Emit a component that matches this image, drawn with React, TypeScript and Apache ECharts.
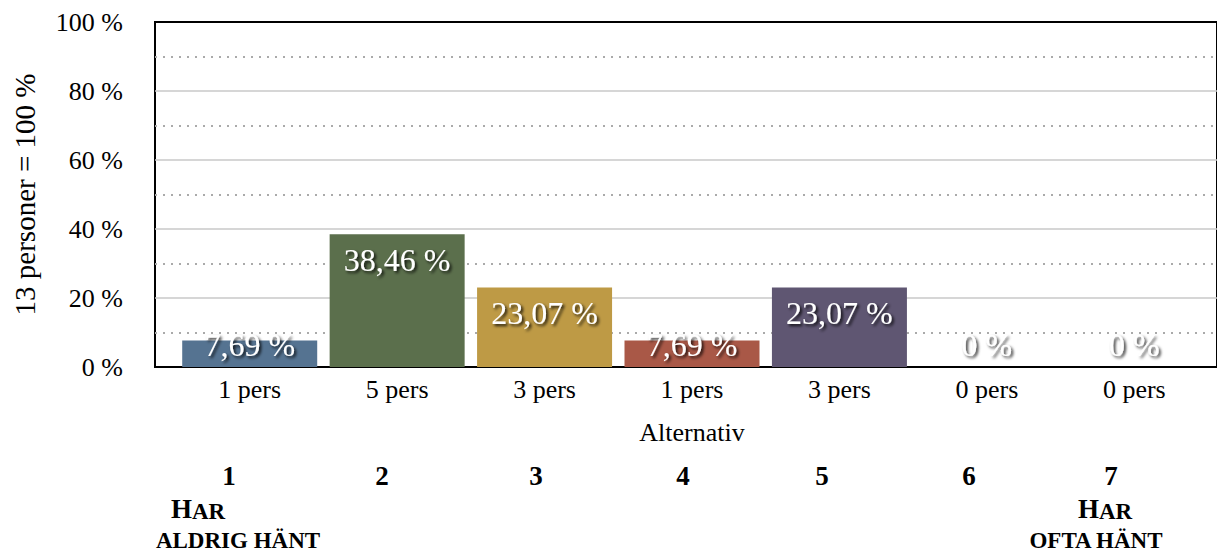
import React, { useEffect, useRef } from 'react';
import * as echarts from 'echarts';

// ---- data ----
const categories = ['1 pers', '5 pers', '3 pers', '1 pers', '3 pers', '0 pers', '0 pers'];
const percentValues = [7.69, 38.46, 23.07, 7.69, 23.07, 0, 0];
const scaleNumbers = ['1', '2', '3', '4', '5', '6', '7'];
const lowEndLabel = ['Har', 'aldrig hänt'];
const highEndLabel = ['Har', 'ofta hänt'];
const xAxisTitle = 'Alternativ';
const yAxisTitle = '13 personer = 100 %';

// ---- styles / layout ----
const barColors = ['#557391', '#5B6F4C', '#BE9A45', '#A95847', '#5F5672', '#888888', '#888888'];
const serif = '"Liberation Serif", "Times New Roman", Times, serif';
const numberX = [229, 382, 536, 683, 822, 969, 1111];

function fmt(v: number): string {
  if (v === 0) return '0 %';
  return v.toFixed(2).replace('.', ',') + ' %';
}

function smallCapsRich(word: string) {
  const first = word.charAt(0).toUpperCase();
  const rest = word.slice(1).toUpperCase();
  return `{a|${first}}{b|${rest}}`;
}

export default function App() {
  const ref = useRef<HTMLDivElement>(null);
  useEffect(() => {
    document.body.style.margin = '0';
    if (!ref.current) return;
    const chart = echarts.init(ref.current, undefined, { renderer: 'svg' });
    const richStyle = {
      a: { fontSize: 27, fontWeight: 'bold', fontFamily: serif, fill: '#000', color: '#000', verticalAlign: 'bottom' },
      b: { fontSize: 23, fontWeight: 'bold', fontFamily: serif, fill: '#000', color: '#000', verticalAlign: 'bottom' },
    };
    const graphics: any[] = [];
    scaleNumbers.forEach((n, i) => {
      graphics.push({
        type: 'text',
        x: numberX[i],
        y: 476,
        style: { text: n, fontSize: 27, fontWeight: 'bold', fontFamily: serif, fill: '#000', align: 'center', verticalAlign: 'middle' },
      });
    });
    graphics.push({
      type: 'text', x: 198, y: 509,
      style: { text: smallCapsRich(lowEndLabel[0]), rich: richStyle, align: 'center', verticalAlign: 'middle' },
    });
    graphics.push({
      type: 'text', x: 238, y: 540,
      style: { text: lowEndLabel[1].toUpperCase(), fontSize: 23, fontWeight: 'bold', fontFamily: serif, fill: '#000', align: 'center', verticalAlign: 'middle' },
    });
    graphics.push({
      type: 'text', x: 1105, y: 509,
      style: { text: smallCapsRich(highEndLabel[0]), rich: richStyle, align: 'center', verticalAlign: 'middle' },
    });
    graphics.push({
      type: 'text', x: 1096, y: 540,
      style: { text: highEndLabel[1].toUpperCase(), fontSize: 23, fontWeight: 'bold', fontFamily: serif, fill: '#000', align: 'center', verticalAlign: 'middle' },
    });

    const option: any = {
      animation: false,
      grid: [
        { left: 176, right: 9, top: 22, bottom: 184 },
        {
          left: 155, right: -5, top: 22, bottom: 184, show: true,
          borderColor: '#000', borderWidth: 2, backgroundColor: 'transparent',
        },
      ],
      xAxis: [
        {
          type: 'category', gridIndex: 0, data: categories,
          axisLine: { show: false }, axisTick: { show: false },
          axisLabel: { margin: 9, fontSize: 26, color: '#000', fontFamily: serif },
          name: xAxisTitle, nameLocation: 'middle', nameGap: 52,
          nameTextStyle: { fontSize: 26, color: '#000', fontFamily: serif },
        },
        { type: 'value', gridIndex: 1, min: 0, max: 1, show: false },
      ],
      yAxis: [
        { type: 'value', gridIndex: 0, min: 0, max: 100, show: false },
        {
          type: 'value', gridIndex: 1, min: 0, max: 100, interval: 20,
          axisLine: { show: false }, axisTick: { show: false },
          axisLabel: { formatter: '{value} %', margin: 32, fontSize: 26, color: '#000', fontFamily: serif },
          splitLine: { show: true, showMinLine: false, showMaxLine: false, lineStyle: { color: '#c8c8c8', width: 1.5 } },
          minorTick: { show: false, splitNumber: 2 },
          minorSplitLine: { show: true, lineStyle: { color: '#aaaaaa', width: 2, type: [2, 6] } },
          name: yAxisTitle, nameLocation: 'middle', nameRotate: 90, nameGap: 116,
          nameTextStyle: { fontSize: 29, color: '#000', fontFamily: serif },
        },
      ],
      series: [
        {
          type: 'bar', xAxisIndex: 0, yAxisIndex: 0, barWidth: 135, z: 3,
          data: percentValues.map((v, i) => ({
            value: v,
            itemStyle: { color: barColors[i] },
            label: v >= 15 ? { position: 'insideTop', distance: 10 } : { position: 'insideBottom', distance: 6 },
          })),
          label: {
            show: true,
            color: '#fff',
            fontSize: 32,
            fontFamily: serif,
            textShadowColor: 'rgba(0,0,0,0.85)',
            textShadowBlur: 3,
            textShadowOffsetX: 2,
            textShadowOffsetY: 2,
            formatter: (p: any) => fmt(p.value),
          },
        },
      ],
      graphic: graphics,
    };
    chart.setOption(option);
    return () => chart.dispose();
  }, []);
  return <div ref={ref} style={{ width: 1217, height: 551 }} />;
}
